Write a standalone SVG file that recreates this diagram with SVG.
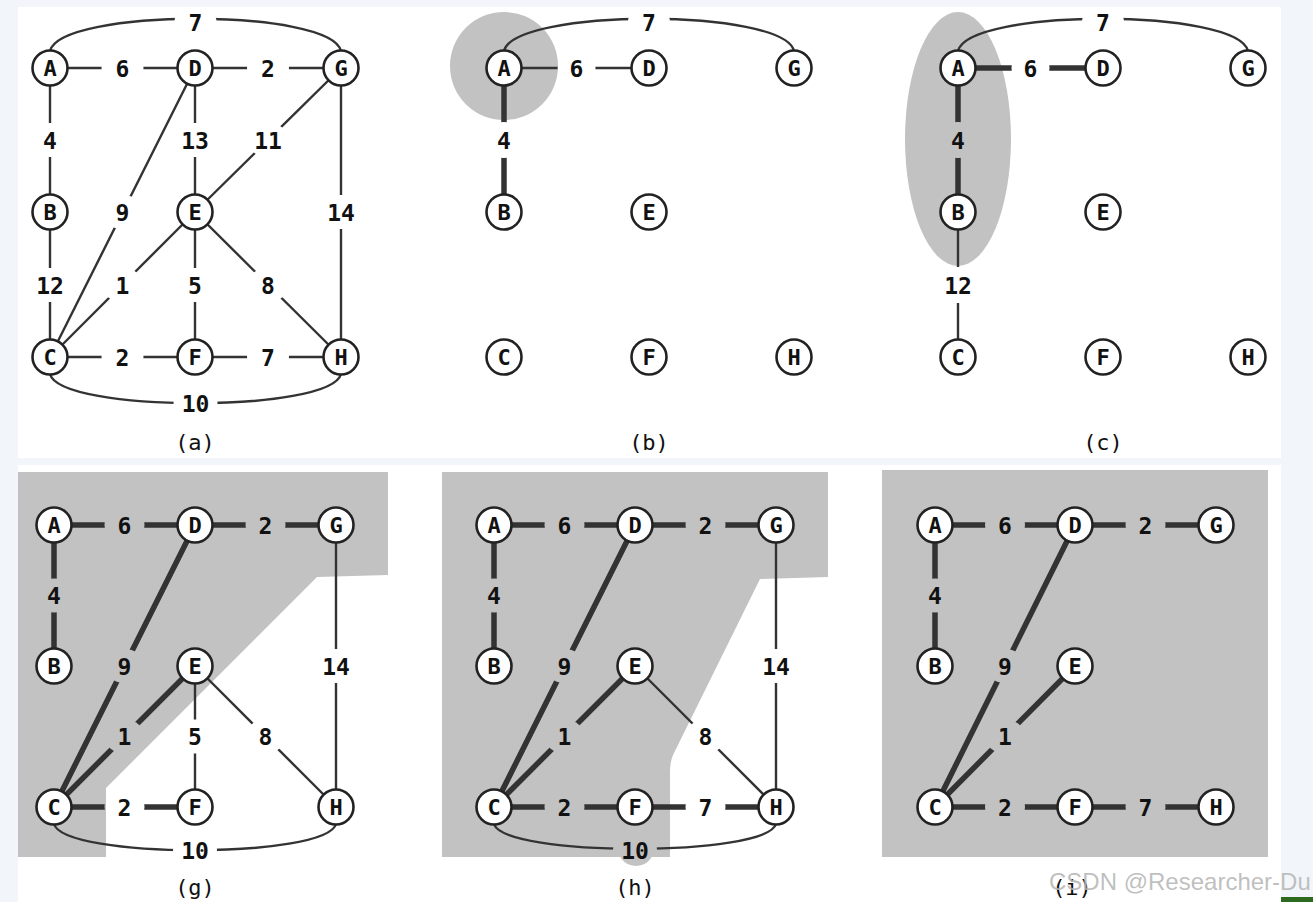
<svg xmlns="http://www.w3.org/2000/svg" width="1313" height="902" viewBox="0 0 1313 902">
<style>
.e{stroke:#333;stroke-width:2.4;fill:none}
.t{stroke-width:5.5}
.n circle{fill:#fff;stroke:#222;stroke-width:2.6}
.n text{font-family:"DejaVu Sans Mono",monospace;font-weight:bold;font-size:22px;text-anchor:middle;fill:#111}
.w{font-family:"DejaVu Sans Mono",monospace;font-weight:bold;font-size:23px;text-anchor:middle;fill:#111}
.cap{font-family:"DejaVu Sans Mono",monospace;font-size:22px;text-anchor:middle;fill:#111}
.sh{fill:#c2c2c2}
.g ellipse{fill:#000}
</style>
<defs>
<mask id="gaps" maskUnits="userSpaceOnUse" x="0" y="0" width="1313" height="902">
<rect x="0" y="0" width="1313" height="902" fill="#fff"/>
<g class="g">
<ellipse cx="195.5" cy="22" rx="21" ry="17"/><ellipse cx="122.5" cy="68" rx="21" ry="17"/><ellipse cx="268" cy="68" rx="21" ry="17"/>
<ellipse cx="50" cy="140" rx="21" ry="17"/><ellipse cx="195" cy="140" rx="21" ry="17"/><ellipse cx="268" cy="140" rx="21" ry="17"/>
<ellipse cx="122.5" cy="212" rx="21" ry="17"/><ellipse cx="341" cy="212" rx="21" ry="17"/>
<ellipse cx="50" cy="285" rx="21" ry="17"/><ellipse cx="122.5" cy="285" rx="21" ry="17"/><ellipse cx="195" cy="285" rx="21" ry="17"/><ellipse cx="268" cy="285" rx="21" ry="17"/>
<ellipse cx="122.5" cy="357" rx="21" ry="17"/><ellipse cx="268" cy="357" rx="21" ry="17"/><ellipse cx="195.5" cy="403" rx="22" ry="17"/>
<ellipse cx="649" cy="22" rx="21" ry="17"/><ellipse cx="576.5" cy="68" rx="19" ry="17"/><ellipse cx="504" cy="140" rx="21" ry="18"/>
<ellipse cx="1103" cy="22" rx="21" ry="17"/><ellipse cx="1030.5" cy="68" rx="19" ry="17"/><ellipse cx="958" cy="140" rx="21" ry="18"/><ellipse cx="958" cy="285" rx="21" ry="18"/>
<ellipse cx="124.5" cy="525" rx="20" ry="17"/><ellipse cx="265.5" cy="525" rx="20" ry="17"/><ellipse cx="54" cy="595.5" rx="20" ry="17"/>
<ellipse cx="124.5" cy="666" rx="20" ry="17"/><ellipse cx="336" cy="666" rx="20" ry="17"/>
<ellipse cx="124.5" cy="736.5" rx="20" ry="17"/><ellipse cx="195" cy="736.5" rx="20" ry="17"/><ellipse cx="265.5" cy="736.5" rx="20" ry="17"/>
<ellipse cx="124.5" cy="807" rx="20" ry="17"/><ellipse cx="195" cy="850" rx="22" ry="17"/>
<ellipse cx="564.5" cy="525" rx="20" ry="17"/><ellipse cx="705.5" cy="525" rx="20" ry="17"/><ellipse cx="494" cy="595.5" rx="20" ry="17"/>
<ellipse cx="564.5" cy="666" rx="20" ry="17"/><ellipse cx="776" cy="666" rx="20" ry="17"/>
<ellipse cx="564.5" cy="736.5" rx="20" ry="17"/><ellipse cx="705.5" cy="736.5" rx="20" ry="17"/>
<ellipse cx="564.5" cy="807" rx="20" ry="17"/><ellipse cx="705.5" cy="807" rx="20" ry="17"/><ellipse cx="635" cy="850" rx="22" ry="17"/>
<ellipse cx="1005" cy="525" rx="20" ry="17"/><ellipse cx="1145.5" cy="525" rx="20" ry="17"/><ellipse cx="935" cy="595.5" rx="20" ry="17"/>
<ellipse cx="1005" cy="666" rx="20" ry="17"/><ellipse cx="1005" cy="736.5" rx="20" ry="17"/>
<ellipse cx="1005" cy="807" rx="20" ry="17"/><ellipse cx="1145.5" cy="807" rx="20" ry="17"/>
</g>
</mask>
</defs>

<rect x="0" y="0" width="1313" height="902" fill="#f2f6fa"/>
<rect x="18" y="7" width="1263" height="451" fill="#fff"/>
<rect x="18" y="465" width="1263" height="437" fill="#fff"/>

<g id="shading">
<circle class="sh" cx="504" cy="66" r="54"/>
<ellipse class="sh" cx="958" cy="139" rx="53" ry="127"/>
<path class="sh" d="M18 472 H388 V575 L317 577 L106 788 V857 H18 Z"/>
<path class="sh" d="M442 472 H828 V577 L760 579 L673 755 Q670 762 670 772 V857 H442 Z"/>
<ellipse class="sh" cx="636" cy="851" rx="17" ry="15"/>
<rect class="sh" x="882" y="470" width="386" height="387"/>
</g>

<g id="connectors" mask="url(#gaps)">
<path class="e" d="M50 68 H195 M195 68 H341 M50 68 V212 M50 212 V357 M195 68 L50 357 M195 68 V212 M341 68 L195 212 M341 68 V357 M195 212 L50 357 M195 212 V357 M195 212 L341 357 M50 357 H195 M195 357 H341"/>
<path class="e" d="M50 51 C60 8 331 8 341 51"/>
<path class="e" d="M50 374 C60 413 331 413 341 374"/>
<path class="e" d="M504 68 H649"/>
<path class="e" d="M504 51 C514 8 784 8 794 51"/>
<path class="e t" d="M504 68 V212"/>
<path class="e" d="M958 212 V357"/>
<path class="e" d="M958 51 C968 8 1238 8 1248 51"/>
<path class="e t" d="M958 68 H1103 M958 68 V212"/>
<path class="e t" d="M54 525 H195 M195 525 H336 M54 525 V666 M195 525 L54 807 M195 666 L54 807 M54 807 H195"/>
<path class="e" d="M195 666 V807 M195 666 L336 807 M336 525 V807"/>
<path class="e" d="M54 824 C64 859 326 859 336 824"/>
<path class="e t" d="M494 525 H635 M635 525 H776 M494 525 V666 M635 525 L494 807 M635 666 L494 807 M494 807 H635 M635 807 H776"/>
<path class="e" d="M635 666 L776 807 M776 525 V807"/>
<path class="e" d="M494 824 C504 857 766 857 776 824"/>
<path class="e t" d="M935 525 H1075 M1075 525 H1216 M935 525 V666 M1075 525 L935 807 M1075 666 L935 807 M935 807 H1075 M1075 807 H1216"/>
</g>

<g id="weights">
<text class="w" x="195.5" y="30.5">7</text><text class="w" x="122.5" y="76.5">6</text><text class="w" x="268" y="76.5">2</text>
<text class="w" x="50" y="148.5">4</text><text class="w" x="195" y="148.5">13</text><text class="w" x="268" y="148.5">11</text>
<text class="w" x="122.5" y="220.5">9</text><text class="w" x="341" y="220.5">14</text>
<text class="w" x="50" y="293.5">12</text><text class="w" x="122.5" y="293.5">1</text><text class="w" x="195" y="293.5">5</text><text class="w" x="268" y="293.5">8</text>
<text class="w" x="122.5" y="365.5">2</text><text class="w" x="268" y="365.5">7</text><text class="w" x="195.5" y="411.5">10</text>
<text class="w" x="649" y="30.5">7</text><text class="w" x="576.5" y="76.5">6</text><text class="w" x="504" y="148.5">4</text>
<text class="w" x="1103" y="30.5">7</text><text class="w" x="1030.5" y="76.5">6</text><text class="w" x="958" y="148.5">4</text><text class="w" x="958" y="293.5">12</text>
<text class="w" x="124.5" y="533.5">6</text><text class="w" x="265.5" y="533.5">2</text><text class="w" x="54" y="604">4</text>
<text class="w" x="124.5" y="674.5">9</text><text class="w" x="336" y="674.5">14</text>
<text class="w" x="124.5" y="745">1</text><text class="w" x="195" y="745">5</text><text class="w" x="265.5" y="745">8</text>
<text class="w" x="124.5" y="815.5">2</text><text class="w" x="195" y="858.5">10</text>
<text class="w" x="564.5" y="533.5">6</text><text class="w" x="705.5" y="533.5">2</text><text class="w" x="494" y="604">4</text>
<text class="w" x="564.5" y="674.5">9</text><text class="w" x="776" y="674.5">14</text>
<text class="w" x="564.5" y="745">1</text><text class="w" x="705.5" y="745">8</text>
<text class="w" x="564.5" y="815.5">2</text><text class="w" x="705.5" y="815.5">7</text><text class="w" x="635" y="858.5">10</text>
<text class="w" x="1005" y="533.5">6</text><text class="w" x="1145.5" y="533.5">2</text><text class="w" x="935" y="604">4</text>
<text class="w" x="1005" y="674.5">9</text><text class="w" x="1005" y="745">1</text>
<text class="w" x="1005" y="815.5">2</text><text class="w" x="1145.5" y="815.5">7</text>
</g>

<g id="nodes-a">
<g id="a-A" class="n"><circle cx="50" cy="68" r="17.5"/><text x="50" y="76">A</text></g>
<g id="a-D" class="n"><circle cx="195" cy="68" r="17.5"/><text x="195" y="76">D</text></g>
<g id="a-G" class="n"><circle cx="341" cy="68" r="17.5"/><text x="341" y="76">G</text></g>
<g id="a-B" class="n"><circle cx="50" cy="212" r="17.5"/><text x="50" y="220">B</text></g>
<g id="a-E" class="n"><circle cx="195" cy="212" r="17.5"/><text x="195" y="220">E</text></g>
<g id="a-C" class="n"><circle cx="50" cy="357" r="17.5"/><text x="50" y="365">C</text></g>
<g id="a-F" class="n"><circle cx="195" cy="357" r="17.5"/><text x="195" y="365">F</text></g>
<g id="a-H" class="n"><circle cx="341" cy="357" r="17.5"/><text x="341" y="365">H</text></g>
</g>
<g id="nodes-b">
<g id="b-A" class="n"><circle cx="504" cy="68" r="17.5"/><text x="504" y="76">A</text></g>
<g id="b-D" class="n"><circle cx="649" cy="68" r="17.5"/><text x="649" y="76">D</text></g>
<g id="b-G" class="n"><circle cx="794" cy="68" r="17.5"/><text x="794" y="76">G</text></g>
<g id="b-B" class="n"><circle cx="504" cy="212" r="17.5"/><text x="504" y="220">B</text></g>
<g id="b-E" class="n"><circle cx="649" cy="212" r="17.5"/><text x="649" y="220">E</text></g>
<g id="b-C" class="n"><circle cx="504" cy="357" r="17.5"/><text x="504" y="365">C</text></g>
<g id="b-F" class="n"><circle cx="649" cy="357" r="17.5"/><text x="649" y="365">F</text></g>
<g id="b-H" class="n"><circle cx="794" cy="357" r="17.5"/><text x="794" y="365">H</text></g>
</g>
<g id="nodes-c">
<g id="c-A" class="n"><circle cx="958" cy="68" r="17.5"/><text x="958" y="76">A</text></g>
<g id="c-D" class="n"><circle cx="1103" cy="68" r="17.5"/><text x="1103" y="76">D</text></g>
<g id="c-G" class="n"><circle cx="1248" cy="68" r="17.5"/><text x="1248" y="76">G</text></g>
<g id="c-B" class="n"><circle cx="958" cy="212" r="17.5"/><text x="958" y="220">B</text></g>
<g id="c-E" class="n"><circle cx="1103" cy="212" r="17.5"/><text x="1103" y="220">E</text></g>
<g id="c-C" class="n"><circle cx="958" cy="357" r="17.5"/><text x="958" y="365">C</text></g>
<g id="c-F" class="n"><circle cx="1103" cy="357" r="17.5"/><text x="1103" y="365">F</text></g>
<g id="c-H" class="n"><circle cx="1248" cy="357" r="17.5"/><text x="1248" y="365">H</text></g>
</g>
<g id="nodes-g">
<g id="g-A" class="n"><circle cx="54" cy="525" r="17.5"/><text x="54" y="533">A</text></g>
<g id="g-D" class="n"><circle cx="195" cy="525" r="17.5"/><text x="195" y="533">D</text></g>
<g id="g-G" class="n"><circle cx="336" cy="525" r="17.5"/><text x="336" y="533">G</text></g>
<g id="g-B" class="n"><circle cx="54" cy="666" r="17.5"/><text x="54" y="674">B</text></g>
<g id="g-E" class="n"><circle cx="195" cy="666" r="17.5"/><text x="195" y="674">E</text></g>
<g id="g-C" class="n"><circle cx="54" cy="807" r="17.5"/><text x="54" y="815">C</text></g>
<g id="g-F" class="n"><circle cx="195" cy="807" r="17.5"/><text x="195" y="815">F</text></g>
<g id="g-H" class="n"><circle cx="336" cy="807" r="17.5"/><text x="336" y="815">H</text></g>
</g>
<g id="nodes-h">
<g id="h-A" class="n"><circle cx="494" cy="525" r="17.5"/><text x="494" y="533">A</text></g>
<g id="h-D" class="n"><circle cx="635" cy="525" r="17.5"/><text x="635" y="533">D</text></g>
<g id="h-G" class="n"><circle cx="776" cy="525" r="17.5"/><text x="776" y="533">G</text></g>
<g id="h-B" class="n"><circle cx="494" cy="666" r="17.5"/><text x="494" y="674">B</text></g>
<g id="h-E" class="n"><circle cx="635" cy="666" r="17.5"/><text x="635" y="674">E</text></g>
<g id="h-C" class="n"><circle cx="494" cy="807" r="17.5"/><text x="494" y="815">C</text></g>
<g id="h-F" class="n"><circle cx="635" cy="807" r="17.5"/><text x="635" y="815">F</text></g>
<g id="h-H" class="n"><circle cx="776" cy="807" r="17.5"/><text x="776" y="815">H</text></g>
</g>
<g id="nodes-i">
<g id="i-A" class="n"><circle cx="935" cy="525" r="17.5"/><text x="935" y="533">A</text></g>
<g id="i-D" class="n"><circle cx="1075" cy="525" r="17.5"/><text x="1075" y="533">D</text></g>
<g id="i-G" class="n"><circle cx="1216" cy="525" r="17.5"/><text x="1216" y="533">G</text></g>
<g id="i-B" class="n"><circle cx="935" cy="666" r="17.5"/><text x="935" y="674">B</text></g>
<g id="i-E" class="n"><circle cx="1075" cy="666" r="17.5"/><text x="1075" y="674">E</text></g>
<g id="i-C" class="n"><circle cx="935" cy="807" r="17.5"/><text x="935" y="815">C</text></g>
<g id="i-F" class="n"><circle cx="1075" cy="807" r="17.5"/><text x="1075" y="815">F</text></g>
<g id="i-H" class="n"><circle cx="1216" cy="807" r="17.5"/><text x="1216" y="815">H</text></g>
</g>

<g id="captions">
<text class="cap" x="195" y="450">(a)</text>
<text class="cap" x="649" y="450">(b)</text>
<text class="cap" x="1103" y="450">(c)</text>
<text class="cap" x="195" y="895">(g)</text>
<text class="cap" x="635" y="895">(h)</text>
<text class="cap" x="1072" y="895">(i)</text>
</g>
<text x="1049" y="890" font-family="'Liberation Sans',Arial,sans-serif" font-size="24" fill="#b4b4b4" fill-opacity="0.85">CSDN @Researcher-Du</text>
<rect x="1281" y="897" width="32" height="5" fill="#2d6a1f"/>
</svg>
